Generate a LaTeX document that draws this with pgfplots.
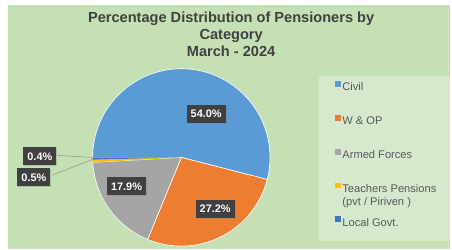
\documentclass[border=0pt]{standalone}
\usepackage{pgfplots}
\usepackage{pgfplotstable}
\pgfplotsset{compat=1.18}
\usepackage{fontspec}
\setmainfont{Liberation Sans}
\usetikzlibrary{shadows}
\definecolor{bggreen}{HTML}{C5E0B4}
\definecolor{lggreen}{HTML}{D6E9CC}
\definecolor{cCivil}{HTML}{5B9BD5}
\definecolor{cWOP}{HTML}{ED7D31}
\definecolor{cArmed}{HTML}{A5A5A5}
\definecolor{cTeach}{HTML}{FFC000}
\definecolor{cLocal}{HTML}{4472C4}
\definecolor{titlegray}{HTML}{404040}
\definecolor{leggray}{HTML}{595959}
\definecolor{lblbox}{HTML}{404040}

\pgfplotstableread{
cat val
Civil 54.0
WOP 27.2
Armed 17.9
Teachers 0.5
Local 0.4
}\piedata

\pgfplotstablegetelem{0}{val}\of\piedata \let\vA\pgfplotsretval
\pgfplotstablegetelem{1}{val}\of\piedata \let\vB\pgfplotsretval
\pgfplotstablegetelem{2}{val}\of\piedata \let\vC\pgfplotsretval
\pgfplotstablegetelem{3}{val}\of\piedata \let\vD\pgfplotsretval
\pgfplotstablegetelem{4}{val}\of\piedata \let\vE\pgfplotsretval
\pgfmathsetmacro\aA{180}
\pgfmathsetmacro\aB{\aA-3.6*\vA}
\pgfmathsetmacro\aC{\aB-3.6*\vB}
\pgfmathsetmacro\aD{\aC-3.6*\vC}
\pgfmathsetmacro\aE{\aD-3.6*\vD}
\pgfmathsetmacro\aF{\aE-3.6*\vE}
\def\cx{182}
\def\cy{92}
\def\R{89}

\begin{document}
\begin{tikzpicture}
\begin{axis}[
  width=452bp, height=250bp, scale only axis,
  xmin=0, xmax=452, ymin=0, ymax=250,
  hide axis, clip=false,
  legend cell align=left,
  legend style={at={(axis cs:336,169)}, anchor=north west, draw=none, fill=none,
    inner sep=0pt, row sep=21bp, column sep=1.5bp,
    font=\fontsize{11.2}{13}\selectfont, text=leggray,
    nodes={inner sep=0pt, text height=8bp, text depth=3bp}},
  area legend,
  legend image code/.code={\fill[#1,draw=none] (0bp,1.5bp) rectangle (6bp,7.5bp);},
]
% background
\fill[white] (axis cs:0,0) rectangle (axis cs:452,250);
\fill[bggreen] (axis cs:8,0) rectangle (axis cs:452,245);
\fill[lggreen] (axis cs:320,8) rectangle (axis cs:452,174);
% slices
\addplot[fill=cCivil, draw=white, line width=0.6pt, domain=\aB:\aA, samples=80]
  ({\cx+\R*cos(x)},{\cy+\R*sin(x)}) -- (axis cs:\cx,\cy) -- cycle;
\addlegendentry{Civil}
\addplot[fill=cWOP, draw=white, line width=0.6pt, domain=\aC:\aB, samples=60]
  ({\cx+\R*cos(x)},{\cy+\R*sin(x)}) -- (axis cs:\cx,\cy) -- cycle;
\addlegendentry{W \& OP}
\addplot[fill=cArmed, draw=white, line width=0.6pt, domain=\aD:\aC, samples=50]
  ({\cx+\R*cos(x)},{\cy+\R*sin(x)}) -- (axis cs:\cx,\cy) -- cycle;
\addlegendentry{Armed Forces}
\addplot[fill=cTeach, draw=none, domain=\aE:\aD, samples=5]
  ({\cx+\R*cos(x)},{\cy+\R*sin(x)}) -- (axis cs:\cx,\cy) -- cycle;
\addlegendentry{\parbox[t]{110bp}{Teachers Pensions\\[0bp](pvt / Piriven )}}
\addplot[fill=cLocal, draw=none, domain=\aF:\aE, samples=5]
  ({\cx+\R*cos(x)},{\cy+\R*sin(x)}) -- (axis cs:\cx,\cy) -- cycle;
\addlegendentry{Local Govt.}
% leader lines
\draw[gray!70!bggreen, line width=0.6pt] (axis cs:58,94) -- (axis cs:93,92);
\draw[gray!70!bggreen, line width=0.6pt] (axis cs:52,74) -- (axis cs:93,90);
% title
\node[font=\bfseries\fontsize{14.7}{17.5}\selectfont, text=titlegray, align=center]
  at (axis cs:232,215.5) {Percentage Distribution of Pensioners by\\Category\\March - 2024};
% data labels
\tikzset{lbl/.style={fill=lblbox, text=white, font=\bfseries\fontsize{11}{13}\selectfont,
  inner xsep=4bp, inner ysep=0pt, minimum height=18bp,
  drop shadow={opacity=0.35, shadow xshift=1bp, shadow yshift=-1bp}}}
\node[lbl] at (axis cs:207,136) {54.0\%};
\node[lbl] at (axis cs:216,40) {27.2\%};
\node[lbl] at (axis cs:127,63) {17.9\%};
\node[lbl] at (axis cs:40,93) {0.4\%};
\node[lbl] at (axis cs:34,72) {0.5\%};
\end{axis}
\end{tikzpicture}
\end{document}
